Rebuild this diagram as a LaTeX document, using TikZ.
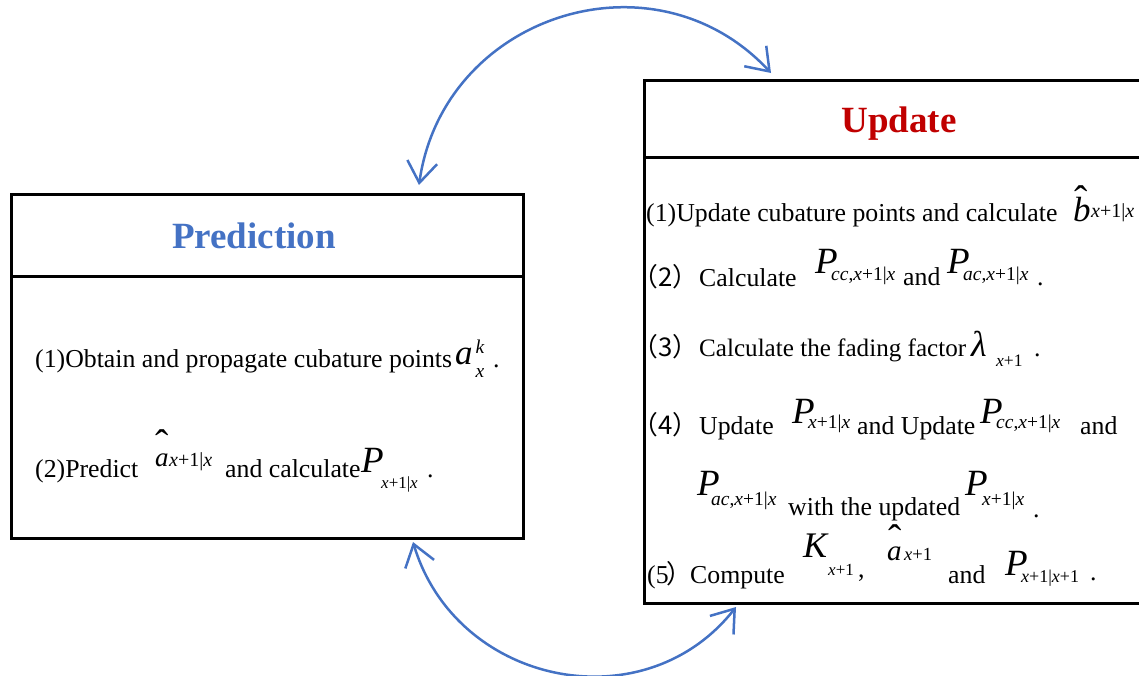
\documentclass[tikz,border=0pt]{standalone}
\usepackage{fontspec}
\setmainfont{Liberation Serif}
\newfontfamily\cjkfont{Noto Sans CJK SC}
\usetikzlibrary{arrows.meta}
\definecolor{pblue}{HTML}{4472C4}
\definecolor{ured}{HTML}{C00000}
% subscript font
\newcommand\sbf[1]{{\fontsize{#1}{#1}\selectfont\upshape}}
\newcommand\subt[2]{{\fontsize{#1}{#1}\selectfont\upshape #2}}
% hat accent whose glyph bottom is raised by #1
\newcommand\hatat[2]{\rlap{\kern#2\raisebox{#1}[0pt][0pt]{\fontsize{40}{40}\selectfont\upshape\raisebox{-0.5em}{\char"02C6}}}}
\begin{document}
\begin{tikzpicture}[x=1pt,y=-1pt,
  txt/.style={anchor=base west, inner sep=0pt, font=\fontsize{25.8}{30}\selectfont},
  cjktxt/.style={anchor=base west, inner sep=0pt, font=\fontsize{25.8}{30}\selectfont\cjkfont},
  big/.style={anchor=base west, inner sep=0pt, font=\fontsize{37}{40}\selectfont\itshape},
  box/.style={draw, line width=3pt, inner sep=0pt, anchor=north west},
  title/.style={anchor=base, inner sep=0pt, font=\fontsize{37}{40}\selectfont\bfseries},
  link/.style={pblue, line width=2.5pt, {Straight Barb[length=21pt,width=30pt]}-{Straight Barb[length=21pt,width=30pt]}}
]
\useasboundingbox (0,0) rectangle (1139,675);

% boxes
\node[box, minimum width=512pt, minimum height=344pt] (pbox) at (10,193) {};
\draw[line width=3pt] ([yshift=-83pt]pbox.north west) -- ([yshift=-83pt]pbox.north east);
\node[box, minimum width=520pt, minimum height=523pt] (ubox) at (643,79) {};
\draw[line width=3pt] ([yshift=-78pt]ubox.north west) -- ([yshift=-78pt]ubox.north east);

% titles
\node[title, text=pblue] (ptitle) at (254,248) {Prediction};
\node[title, text=ured] (utitle) at (899,132) {Update};

% prediction text
\node[txt] (l1) at (35,367) {(1)Obtain and propagate cubature points};
\node[big, font=\fontsize{35}{36}\selectfont\itshape] (l1a) at (455,364)
  {\makebox[20.5pt][l]{a}\rlap{\raisebox{11pt}{\subt{19.5}{\textit{k}}}}\raisebox{-13pt}{\subt{19.5}{\textit{x}}}};
\node[txt] (l1d) at (493,367) {.};

\node[txt] (l2) at (35,477) {(2)Predict};
\node[big, font=\fontsize{27}{28}\selectfont\itshape] (l2a) at (155,466)
  {\hatat{29pt}{0pt}\makebox[14pt][l]{a}\subt{20}{\textit{x}+1|\textit{x}}};
\node[txt] (l2b) at (225,477) {and calculate};
\node[big] (l2P) at (361,472) {\makebox[20pt][l]{P}\raisebox{-16pt}{\subt{17}{\textit{x}+1|\textit{x}}}};
\node[txt] (l2d) at (427,477) {.};

% update text
\node[txt] (r1) at (646,221) {(1)Update cubature points and calculate};
\node[big, font=\fontsize{35}{36}\selectfont\itshape] (r1b) at (1073,221)
  {\hatat{28pt}{1pt}\makebox[18pt][l]{b}\raisebox{4pt}{\subt{20}{\textit{x}+1|\textit{x}}}};

\node[cjktxt] (r2p) at (632,286) {（2）};
\node[txt] (r2) at (699,286) {Calculate};
\node[big] (r2P1) at (815,273) {\makebox[16pt][l]{P}\raisebox{-7pt}{\subt{19.5}{\textit{cc},\textit{x}+1|\textit{x}}}};
\node[txt] (r2and) at (903,285) {and};
\node[big] (r2P2) at (947,273) {\makebox[16pt][l]{P}\raisebox{-7pt}{\subt{19.5}{\textit{ac},\textit{x}+1|\textit{x}}}};
\node[txt] (r2d) at (1037,285) {.};

\node[cjktxt] (r3p) at (632,356) {（3）};
\node[txt, font=\fontsize{25.1}{30}\selectfont] (r3) at (699,356) {Calculate the fading factor};
\node[big, font=\fontsize{36}{36}\selectfont\itshape] (r3l) at (971,356)
  {\makebox[25pt][l]{λ}\raisebox{-10pt}{\subt{17.5}{\textit{x}+1}}};
\node[txt] (r3d) at (1034,356) {.};

\node[cjktxt] (r4p) at (632,434) {（4）};
\node[txt] (r4) at (699,434) {Update};
\node[big] (r4P1) at (792,423) {\makebox[16pt][l]{P}\raisebox{-5pt}{\subt{19.5}{\textit{x}+1|\textit{x}}}};
\node[txt] (r4u) at (857,434) {and Update};
\node[big] (r4P2) at (980,423) {\makebox[16pt][l]{P}\raisebox{-5pt}{\subt{19.5}{\textit{cc},\textit{x}+1|\textit{x}}}};
\node[txt] (r4and) at (1080,434) {and};

\node[big] (r5P1) at (697,495) {\makebox[14pt][l]{P}\raisebox{-10pt}{\subt{19.5}{\textit{ac},\textit{x}+1|\textit{x}}}};
\node[txt] (r5w) at (788,515) {with the updated};
\node[big] (r5P2) at (965,495) {\makebox[17pt][l]{P}\raisebox{-10pt}{\subt{19.5}{\textit{x}+1|\textit{x}}}};
\node[txt] (r5d) at (1033,517) {.};

\node[txt] (r6p) at (647,583) {(5};
\node[cjktxt] (r6q) at (666,583) {）};
\node[txt] (r6) at (690,583) {Compute};
\node[big, font=\fontsize{36}{36}\selectfont\itshape] (r6K) at (803,557)
  {\makebox[25pt][l]{K}\raisebox{-18pt}{\subt{17}{\textit{x}+1}}};
\node[txt] (r6c) at (858,577) {,};
\node[big, font=\fontsize{29}{30}\selectfont\itshape] (r6a) at (887,560)
  {\hatat{28pt}{1pt}\makebox[17pt][l]{a}\subt{18.5}{\textit{x}+1}};
\node[txt] (r6and) at (948,583) {and};
\node[big] (r6P) at (1005,575) {\makebox[16pt][l]{P}\raisebox{-7pt}{\subt{18}{\textit{x}+1|\textit{x}+1}}};
\node[txt] (r6d) at (1090,580) {.};

% connectors
\coordinate (t1) at (419,185);
\coordinate (t2) at (771,73);
\draw[link] (t1) .. controls (443,15) and (654,-53) .. (t2);
\coordinate (b1) at (413,542);
\coordinate (b2) at (736,607);
\draw[link] (b1) .. controls (456,685) and (644,724) .. (b2);
\end{tikzpicture}
\end{document}
